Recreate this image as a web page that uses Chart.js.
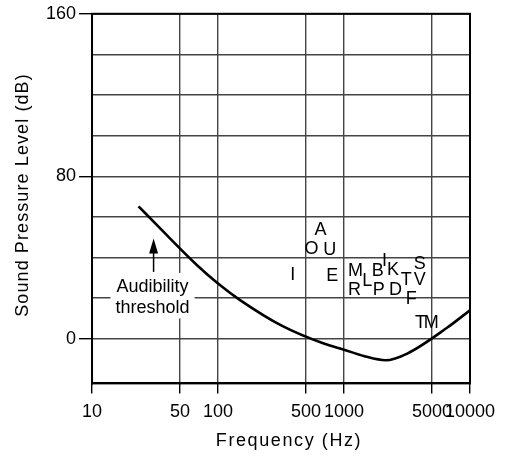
<!DOCTYPE html>
<html>
<head>
<meta charset="utf-8">
<script src="https://cdn.jsdelivr.net/npm/chart.js@4.4.1/dist/chart.umd.min.js"></script>
<style>
  html, body { margin: 0; padding: 0; background: #fff; }
  #wrap { width: 513px; height: 458px; }
</style>
</head>
<body>
<div id="wrap"><canvas id="splChart" width="513" height="458"></canvas></div>
<script>
// threshold curve (Hz, dB)
const curveFreq = [23.4, 34.9, 68.2, 100, 150.7, 323, 691, 1000, 1436, 2136, 3177, 6607, 10000];
const curveDb   = [65.2, 54.2, 36.2, 27.2, 18.9, 6.3, -2.4, -5.4, -8.5, -10.6, -7.3, 5.5, 14];

// speech sounds
const letters    = ['A', 'O', 'U', 'I', 'E', 'M', 'R', 'L', 'B', 'P', 'I', 'K', 'D', 'T', 'S', 'V', 'F', 'T', 'M'];
const letterFreq = [651, 552, 771, 392, 805, 1234, 1212, 1528, 1855, 1889, 2097, 2443, 2565, 3119, 4000, 4000, 3420, 4055, 4933];
const letterDb   = [53.7, 44.4, 43.9, 31.2, 30.7, 33.4, 23.9, 28.4, 33.4, 23.9, 38.3, 33.7, 23.9, 29.1, 37, 28.8, 19.3, 7.5, 7.5];

const xTicks = [10, 50, 100, 500, 1000, 5000, 10000];
const yTicks = [0, 20, 40, 60, 80, 100, 120, 140, 160];
const yLabels = [0, 80, 160];

// annotation
const noteLines = ['Audibility', 'threshold'];
const noteFreq = 30.2;
const noteDb = [25.5, 14.9];
const arrowFreq = 30.8;
const arrowTailDb = 32.9;
const arrowTipDb = 49.3;

const FONT = '"Liberation Sans", Arial, Helvetica, sans-serif';

const framePlugin = {
    id: 'frame',
    afterDatasetsDraw(chart) {
        const a = chart.chartArea, c = chart.ctx;
        c.save();
        c.strokeStyle = '#000';
        c.lineWidth = 2;
        c.strokeRect(a.left, a.top, a.right - a.left, a.bottom - a.top);
        c.restore();
    }
};

const notePlugin = {
    id: 'note',
    beforeDatasetsDraw(chart) {
        const c = chart.ctx, xs = chart.scales.x, ys = chart.scales.y;
        const x = xs.getPixelForValue(noteFreq);
        c.save();
        c.font = '18px ' + FONT;
        const w = Math.max(...noteLines.map(t => c.measureText(t).width));
        const y0 = ys.getPixelForValue(noteDb[0]), y1 = ys.getPixelForValue(noteDb[1]);
        c.fillStyle = '#fff';
        c.fillRect(x - w / 2 - 5, y0 - 14, w + 10, y1 - y0 + 24);
        c.fillStyle = '#000';
        c.textAlign = 'center';
        c.textBaseline = 'middle';
        noteLines.forEach((t, i) => c.fillText(t, x, ys.getPixelForValue(noteDb[i])));
        // arrow
        const ax = xs.getPixelForValue(arrowFreq);
        const tail = ys.getPixelForValue(arrowTailDb), tip = ys.getPixelForValue(arrowTipDb);
        c.strokeStyle = '#000';
        c.lineWidth = 1.5;
        c.beginPath();
        c.moveTo(ax, tail);
        c.lineTo(ax, tip + 10);
        c.stroke();
        c.beginPath();
        c.moveTo(ax, tip);
        c.lineTo(ax - 4.5, tip + 15);
        c.lineTo(ax + 4.5, tip + 15);
        c.closePath();
        c.fill();
        c.restore();
    }
};

const letterPlugin = {
    id: 'letters',
    afterDatasetsDraw(chart) {
        const meta = chart.getDatasetMeta(1), c = chart.ctx;
        c.save();
        c.font = '18px ' + FONT;
        c.fillStyle = '#000';
        c.textAlign = 'center';
        c.textBaseline = 'middle';
        meta.data.forEach((pt, i) => c.fillText(letters[i], pt.x, pt.y));
        c.restore();
    }
};

// axis titles, drawn with a little letter spacing
const titlePlugin = {
    id: 'titles',
    afterDraw(chart) {
        const c = chart.ctx;
        c.save();
        c.font = '18px ' + FONT;
        c.fillStyle = '#000';
        c.textAlign = 'center';
        c.textBaseline = 'middle';
        c.letterSpacing = '1.6px';
        c.fillText('Frequency (Hz)', 289, 441);
        c.translate(23, 195);
        c.rotate(-Math.PI / 2);
        c.letterSpacing = '1.1px';
        c.fillText('Sound Pressure Level (dB)', 0, 0);
        c.restore();
    }
};

const ctx = document.getElementById('splChart').getContext('2d');
const splChart = new Chart(ctx, {
    type: 'scatter',
    data: {
        datasets: [{
            label: 'Audibility threshold',
            data: curveFreq.map((f, i) => ({ x: f, y: curveDb[i] })),
            showLine: true,
            borderColor: '#000',
            borderWidth: 2.6,
            pointRadius: 0,
            cubicInterpolationMode: 'monotone'
        }, {
            label: 'Speech sounds',
            data: letterFreq.map((f, i) => ({ x: f, y: letterDb[i] })),
            pointRadius: 0
        }]
    },
    options: {
        responsive: false,
        animation: false,
        layout: { padding: { left: 43, top: 13, right: 43, bottom: 27 } },
        plugins: { legend: { display: false }, tooltip: { enabled: false } },
        scales: {
            x: {
                type: 'logarithmic',
                min: 10,
                max: 10000,
                afterBuildTicks: axis => { axis.ticks = xTicks.map(v => ({ value: v })); },
                ticks: {
                    callback: v => String(v),
                    autoSkip: false,
                    maxRotation: 0,
                    padding: 8,
                    color: '#000',
                    font: { family: FONT, size: 18 }
                },
                grid: { color: '#444', lineWidth: 1.4, tickLength: 10, tickColor: '#000' },
                border: { color: '#000', width: 2 }
            },
            y: {
                min: -22,
                max: 160,
                afterBuildTicks: axis => { axis.ticks = yTicks.map(v => ({ value: v })); },
                ticks: {
                    callback: v => yLabels.includes(v) ? String(v) : '',
                    padding: 3,
                    color: '#000',
                    font: { family: FONT, size: 18 }
                },
                grid: {
                    color: '#444',
                    lineWidth: 1.4,
                    tickLength: 13,
                    tickColor: c => yLabels.includes(c.tick.value) ? '#000' : 'rgba(0,0,0,0)'
                },
                border: { color: '#000', width: 2 }
            }
        }
    },
    plugins: [notePlugin, letterPlugin, framePlugin, titlePlugin]
});
</script>
</body>
</html>
